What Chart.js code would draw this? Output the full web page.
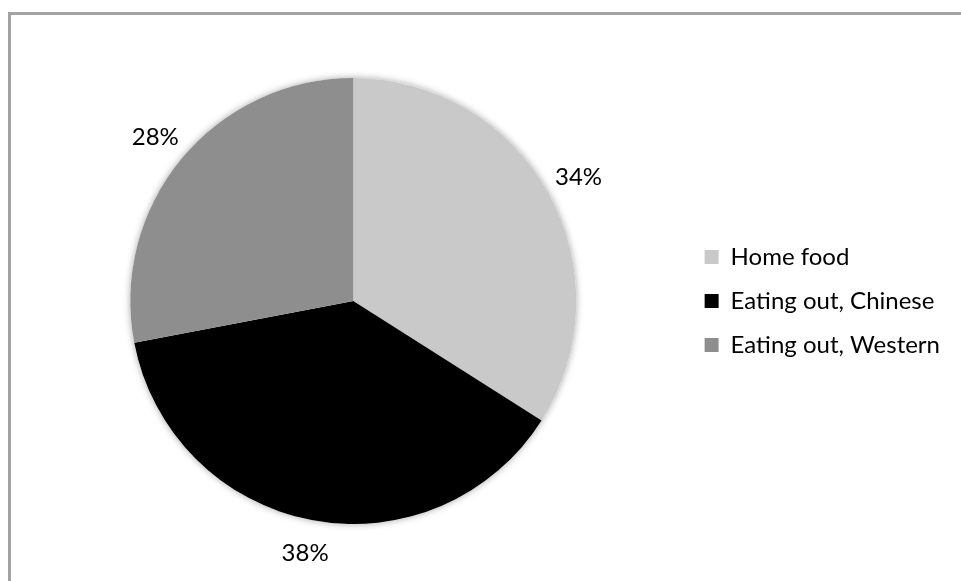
<!DOCTYPE html>
<html>
<head>
<meta charset="utf-8">
<script src="https://cdn.jsdelivr.net/npm/chart.js@4.4.1/dist/chart.umd.min.js"></script>
<style>
html, body { margin: 0; padding: 0; background: #fff; }
#frame {
    position: absolute; left: 8px; top: 12px; width: 953px; height: 569px;
    border-top: 3px solid #a3a3a3; border-left: 3px solid #a3a3a3; box-sizing: border-box;
}
#wrap { position: absolute; left: 0; top: 0; width: 961px; height: 581px; }
</style>
</head>
<body>
<div id="frame"></div>
<div id="wrap"><canvas id="myChartFood"></canvas></div>
<script>
// food share pie
const categories = ['Home food', 'Eating out, Chinese', 'Eating out, Western'];
const shares = [34, 38, 28];
const percentLabels = ['34%', '38%', '28%'];
const sliceColors = ['#c9c9c9', '#000000', '#8e8e8e'];

// soft shadow under the whole pie
const pieShadow = {
	id: 'pieShadow',
	beforeDatasetsDraw(chart) {
		const arc = chart.getDatasetMeta(0).data[0];
		if (!arc) return;
		const ctx = chart.ctx;
		ctx.save();
		ctx.shadowColor = 'rgba(0,0,0,0.35)';
		ctx.shadowBlur = 7;
		ctx.fillStyle = '#ffffff';
		ctx.beginPath();
		ctx.arc(arc.x, arc.y, arc.outerRadius, 0, Math.PI * 2);
		ctx.fill();
		ctx.restore();
	}
};

// percent labels outside the slices
const outsideLabels = {
	id: 'outsideLabels',
	afterDatasetsDraw(chart) {
		const ctx = chart.ctx;
		ctx.save();
		ctx.font = '24px Lato';
		ctx.fillStyle = '#000';
		ctx.textAlign = 'center';
		ctx.textBaseline = 'middle';
		chart.getDatasetMeta(0).data.forEach((arc, i) => {
			const mid = (arc.startAngle + arc.endAngle) / 2;
			const r = arc.outerRadius + 34;
			ctx.fillText(percentLabels[i], arc.x + Math.cos(mid) * r, arc.y + Math.sin(mid) * r);
		});
		ctx.restore();
	}
};

const data = {
	labels: categories,
	datasets: [{
		data: shares,
		backgroundColor: sliceColors,
		borderWidth: 0
	}]
};

const config = {
	type: 'pie',
	data: data,
	options: {
		responsive: true,
		maintainAspectRatio: false,
		animation: false,
		layout: {
			padding: { top: 78, bottom: 57, left: 22, right: 11 }
		},
		plugins: {
			legend: {
				position: 'right',
				labels: {
					color: '#000',
					boxWidth: 14,
					boxHeight: 14,
					padding: 20,
					font: {
						family: 'Lato',
						size: 24,
					},
				},
			},
			tooltip: {
				enabled: false,
			},
		},
	},
	plugins: [pieShadow, outsideLabels]
};

const ctx = document.getElementById('myChartFood').getContext('2d');
new Chart(ctx, config);
</script>
</body>
</html>
